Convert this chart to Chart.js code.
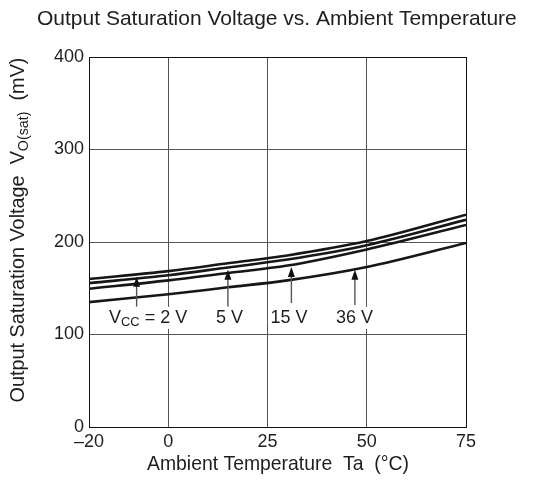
<!DOCTYPE html>
<html>
<head>
<meta charset="utf-8">
<script src="https://cdn.jsdelivr.net/npm/chart.js@4/dist/chart.umd.min.js"></script>
<style>
  body { margin: 0; background: #fff; }
  #wrap { width: 533px; height: 499px; }
</style>
</head>
<body>
<div id="wrap"><canvas id="sat-chart" width="533" height="499"></canvas></div>
<script>
// temperature points (°C)
const temps = [-20, 0, 15, 30, 50, 75];
// output saturation voltage (mV) for each supply voltage
const vcc2 = [160, 168.5, 177, 185.5, 201, 229.5];
const vcc5 = [155.5, 164, 172.5, 181, 196.5, 224];
const vcc15 = [149.5, 158.5, 166.5, 174.5, 192, 218.5];
const vcc36 = [135, 143.5, 151, 158.5, 173, 199];

const xTicks = [-20, 0, 25, 50, 75];
const yTicks = [0, 100, 200, 300, 400];

// arrow labels: x position, arrow tip / tail (mV), label text
const arrowX = [-8, 15, 31, 47];
const arrowTip = [162.5, 170, 173, 170];
const arrowTail = [130, 130, 134, 132];
const arrowLabels = ['2 V', '5 V', '15 V', '36 V'];
const labelX = [-5.1, 15.4, 30.4, 46.9];
const labelY = [118, 118, 118, 118];

const FONT = '"Liberation Sans", Arial, Helvetica, sans-serif';
const TEXT = '#1e1e1e';

function toPoints(ys) {
    return temps.map((t, i) => ({ x: t, y: ys[i] }));
}

function lineSet(label, ys) {
    return {
        label: label,
        data: toPoints(ys),
        borderColor: '#161616',
        borderWidth: 2.6,
        pointRadius: 0,
        fill: false,
        cubicInterpolationMode: 'monotone'
    };
}

// draws text with a subscript part, returns total width
function drawSub(ctx, parts, x, y, size) {
    let cx = x;
    parts.forEach(p => {
        const s = p.sub ? size * 0.72 : size;
        ctx.font = s + 'px ' + FONT;
        ctx.fillText(p.t, cx, y + (p.sub ? size * 0.28 : 0));
        cx += ctx.measureText(p.t).width;
    });
    return cx - x;
}

function measureSub(ctx, parts, size) {
    let w = 0;
    parts.forEach(p => {
        ctx.font = (p.sub ? size * 0.72 : size) + 'px ' + FONT;
        w += ctx.measureText(p.t).width;
    });
    return w;
}

// font size that makes a text run about the given length
function fitSize(ctx, parts, length) {
    return 20 * length / measureSub(ctx, parts, 20);
}

const decorations = {
    id: 'decorations',
    afterDatasetsDraw(chart) {
        const ctx = chart.ctx;
        const xs = chart.scales.x;
        const ys = chart.scales.y;
        ctx.save();

        // arrows
        arrowX.forEach((ax, i) => {
            const px = xs.getPixelForValue(ax);
            const tip = ys.getPixelForValue(arrowTip[i]);
            const tail = ys.getPixelForValue(arrowTail[i]);
            ctx.strokeStyle = '#555';
            ctx.lineWidth = 1.4;
            ctx.beginPath();
            ctx.moveTo(px, tail);
            ctx.lineTo(px, tip + 6);
            ctx.stroke();
            ctx.fillStyle = '#111';
            ctx.beginPath();
            ctx.moveTo(px, tip);
            ctx.lineTo(px - 3.5, tip + 10);
            ctx.lineTo(px + 3.5, tip + 10);
            ctx.closePath();
            ctx.fill();
        });

        // labels with white boxes
        const size = 18;
        ctx.textBaseline = 'middle';
        ctx.textAlign = 'left';
        arrowLabels.forEach((lab, i) => {
            const parts = i === 0
                ? [{ t: 'V' }, { t: 'CC', sub: true }, { t: ' = ' + lab }]
                : [{ t: lab }];
            const w = measureSub(ctx, parts, size);
            const cx = xs.getPixelForValue(labelX[i]);
            const cy = ys.getPixelForValue(labelY[i]);
            ctx.fillStyle = '#fff';
            ctx.fillRect(cx - w / 2 - 2, cy - 11, w + 4, 22);
            ctx.fillStyle = TEXT;
            drawSub(ctx, parts, cx - w / 2, cy, size);
        });
        ctx.restore();
    },
    afterDraw(chart) {
        const ctx = chart.ctx;
        ctx.save();
        ctx.fillStyle = TEXT;
        ctx.textBaseline = 'middle';
        ctx.textAlign = 'left';

        // chart title
        const title = [{ t: 'Output Saturation Voltage vs. Ambient Temperature' }];
        const ts = fitSize(ctx, title, 480);
        drawSub(ctx, title, 277 - 240, 19, ts);

        // x axis title
        const xt = [{ t: 'Ambient Temperature  Ta  (\u00B0C)' }];
        const xsz = fitSize(ctx, xt, 262);
        drawSub(ctx, xt, 278 - 131, 465, xsz);

        // y axis title, rotated
        const parts = [
            { t: 'Output Saturation Voltage  V' },
            { t: 'O(sat)', sub: true },
            { t: '  (mV)' }
        ];
        const size = fitSize(ctx, parts, 345);
        const w = measureSub(ctx, parts, size);
        ctx.translate(19, 230);
        ctx.rotate(-Math.PI / 2);
        drawSub(ctx, parts, -w / 2, 0, size);
        ctx.restore();
    }
};

function edgeColor(ctx, edges) {
    return edges.includes(ctx.tick.value) ? '#111' : '#555';
}

function displayChart() {
    const ctx = document.getElementById('sat-chart').getContext('2d');
    new Chart(ctx, {
        type: 'line',
        data: {
            datasets: [
                lineSet('VCC = 2 V', vcc2),
                lineSet('5 V', vcc5),
                lineSet('15 V', vcc15),
                lineSet('36 V', vcc36)
            ]
        },
        options: {
            responsive: false,
            animation: false,
            layout: { padding: { top: 57, right: 67, left: 0, bottom: 0 } },
            plugins: {
                legend: { display: false },
                tooltip: { enabled: false }
            },
            scales: {
                x: {
                    type: 'linear',
                    min: -20,
                    max: 75,
                    afterBuildTicks: axis => { axis.ticks = xTicks.map(v => ({ value: v })); },
                    afterFit: axis => { axis.height = 72; },
                    grid: {
                        color: c => edgeColor(c, [-20, 75]),
                        lineWidth: 1,
                        drawTicks: false
                    },
                    border: { color: '#111', width: 1 },
                    ticks: {
                        padding: 4,
                        color: TEXT,
                        font: { family: FONT, size: 18 },
                        maxRotation: 0,
                        callback: v => String(v).replace('-', '\u2013')
                    }
                },
                y: {
                    min: 0,
                    max: 400,
                    afterBuildTicks: axis => { axis.ticks = yTicks.map(v => ({ value: v })); },
                    afterFit: axis => { axis.width = 89; },
                    grid: {
                        color: c => edgeColor(c, [0, 400]),
                        lineWidth: 1,
                        drawTicks: false
                    },
                    border: { color: '#111', width: 1 },
                    ticks: {
                        padding: 5,
                        color: TEXT,
                        font: { family: FONT, size: 18 }
                    }
                }
            }
        },
        plugins: [decorations]
    });
}

document.addEventListener('DOMContentLoaded', displayChart);
</script>
</body>
</html>
